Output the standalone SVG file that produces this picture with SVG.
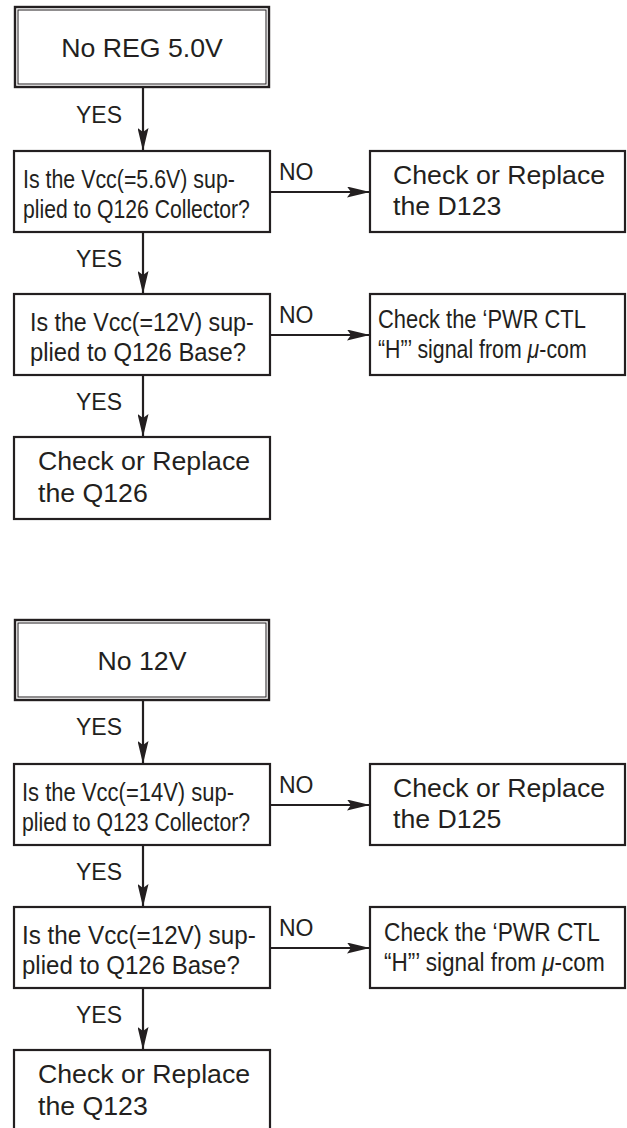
<svg xmlns="http://www.w3.org/2000/svg" width="627" height="1128" viewBox="0 0 627 1128">
<style>
.bg{fill:#ffffff}
.box{fill:#ffffff;stroke:#231f20;stroke-width:2.2}
.outer{fill:#ffffff;stroke:#231f20;stroke-width:2.4}
.inner{fill:none;stroke:#231f20;stroke-width:1}
.con{fill:none;stroke:#231f20;stroke-width:2.2}
text{font-family:"Liberation Sans",Arial,sans-serif;fill:#231f20}
.t26{font-size:26.7px}
.lbl{font-size:23px}
.cond{font-size:26px}
.it{font-style:italic}
</style>
<defs>
<marker id="ah" viewBox="0 0 23 11" refX="23" refY="5.5" markerWidth="23" markerHeight="11" markerUnits="userSpaceOnUse" orient="auto">
<path d="M0,0 L23,5.5 L0,11 L4,5.5 z" fill="#231f20"/>
</marker>
</defs>
<rect class="bg" x="0" y="0" width="627" height="1128"/>

<g id="connectors">
<line class="con" x1="143" y1="88" x2="143" y2="151" marker-end="url(#ah)"/>
<line class="con" x1="143" y1="232" x2="143" y2="294" marker-end="url(#ah)"/>
<line class="con" x1="143" y1="375" x2="143" y2="437" marker-end="url(#ah)"/>
<line class="con" x1="270" y1="192" x2="370" y2="192" marker-end="url(#ah)"/>
<line class="con" x1="270" y1="335" x2="370" y2="335" marker-end="url(#ah)"/>
<line class="con" x1="143" y1="700" x2="143" y2="764" marker-end="url(#ah)"/>
<line class="con" x1="143" y1="845" x2="143" y2="907" marker-end="url(#ah)"/>
<line class="con" x1="143" y1="988" x2="143" y2="1050" marker-end="url(#ah)"/>
<line class="con" x1="270" y1="805" x2="370" y2="805" marker-end="url(#ah)"/>
<line class="con" x1="270" y1="948" x2="370" y2="948" marker-end="url(#ah)"/>
<text class="lbl" x="122" y="123" text-anchor="end">YES</text>
<text class="lbl" x="122" y="267" text-anchor="end">YES</text>
<text class="lbl" x="122" y="410" text-anchor="end">YES</text>
<text class="lbl" x="279" y="180">NO</text>
<text class="lbl" x="279" y="323">NO</text>
<text class="lbl" x="122" y="735" text-anchor="end">YES</text>
<text class="lbl" x="122" y="880" text-anchor="end">YES</text>
<text class="lbl" x="122" y="1023" text-anchor="end">YES</text>
<text class="lbl" x="279" y="793">NO</text>
<text class="lbl" x="279" y="936">NO</text>
</g>

<g id="start1">
<rect class="outer" x="15" y="7" width="254" height="80"/>
<rect class="inner" x="18" y="10" width="248" height="74"/>
<text class="t26" x="142" y="57" text-anchor="middle">No REG 5.0V</text>
</g>
<g id="q1a">
<rect class="box" x="14" y="151" width="256" height="81"/>
<text class="cond" transform="translate(23,188) scale(0.822,1)">Is the Vcc(=5.6V) sup-</text>
<text class="cond" transform="translate(23,218) scale(0.814,1)">plied to Q126 Collector?</text>
</g>
<g id="r1a">
<rect class="box" x="370" y="151" width="255" height="81"/>
<text class="t26" x="393" y="184">Check or Replace</text>
<text class="t26" x="393" y="215">the D123</text>
</g>
<g id="q1b">
<rect class="box" x="14" y="294" width="256" height="81"/>
<text class="cond" transform="translate(30,331) scale(0.893,1)">Is the Vcc(=12V) sup-</text>
<text class="cond" transform="translate(30,361) scale(0.917,1)">plied to Q126 Base?</text>
</g>
<g id="r1b">
<rect class="box" x="370" y="294" width="255" height="81"/>
<text class="cond" transform="translate(378,328) scale(0.842,1)">Check the ‘PWR CTL</text>
<text class="cond" transform="translate(378,358) scale(0.82,1)">“H”’ signal from <tspan class="it">μ</tspan>-com</text>
</g>
<g id="e1">
<rect class="box" x="14" y="437" width="256" height="82"/>
<text class="t26" x="38" y="470">Check or Replace</text>
<text class="t26" x="38" y="502">the Q126</text>
</g>

<g id="start2">
<rect class="outer" x="15" y="620" width="254" height="80"/>
<rect class="inner" x="18" y="623" width="248" height="74"/>
<text class="t26" x="142" y="670" text-anchor="middle">No 12V</text>
</g>
<g id="q2a">
<rect class="box" x="14" y="764" width="256" height="81"/>
<text class="cond" transform="translate(22,801) scale(0.846,1)">Is the Vcc(=14V) sup-</text>
<text class="cond" transform="translate(22,831) scale(0.818,1)">plied to Q123 Collector?</text>
</g>
<g id="r2a">
<rect class="box" x="370" y="764" width="255" height="81"/>
<text class="t26" x="393" y="797">Check or Replace</text>
<text class="t26" x="393" y="828">the D125</text>
</g>
<g id="q2b">
<rect class="box" x="14" y="907" width="256" height="81"/>
<text class="cond" transform="translate(22,944) scale(0.933,1)">Is the Vcc(=12V) sup-</text>
<text class="cond" transform="translate(22,974) scale(0.925,1)">plied to Q126 Base?</text>
</g>
<g id="r2b">
<rect class="box" x="370" y="907" width="255" height="81"/>
<text class="cond" transform="translate(384,941) scale(0.874,1)">Check the ‘PWR CTL</text>
<text class="cond" transform="translate(384,971) scale(0.867,1)">“H”’ signal from <tspan class="it">μ</tspan>-com</text>
</g>
<g id="e2">
<rect class="box" x="14" y="1050" width="256" height="82"/>
<text class="t26" x="38" y="1083">Check or Replace</text>
<text class="t26" x="38" y="1115">the Q123</text>
</g>
</svg>
